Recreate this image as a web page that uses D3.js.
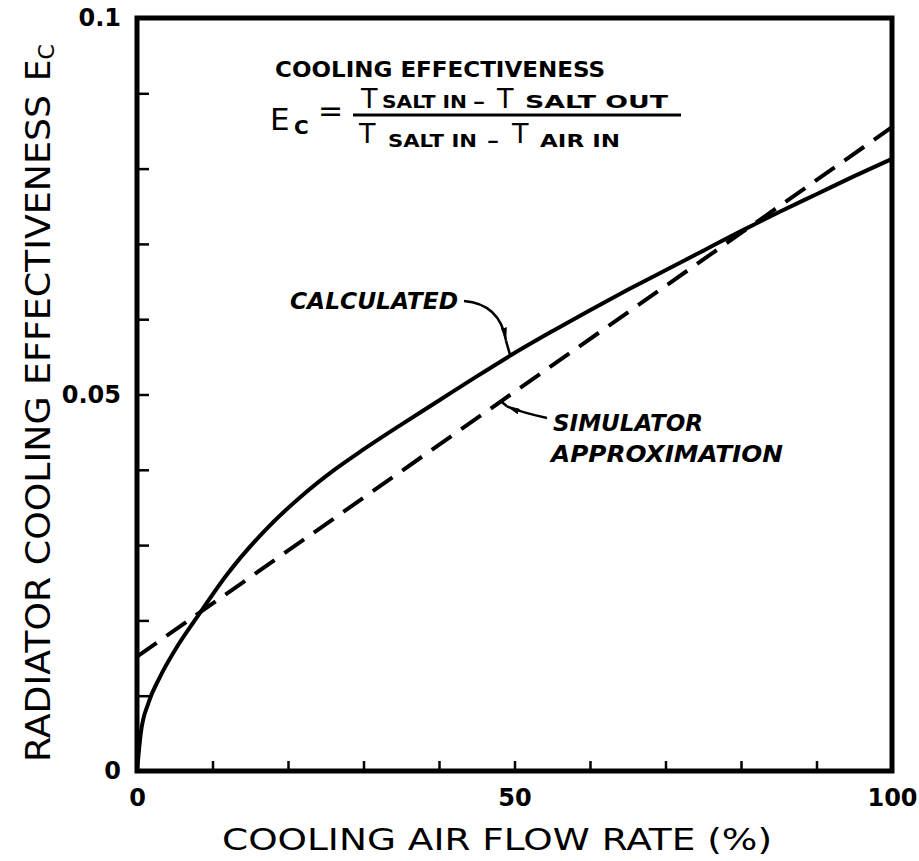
<!DOCTYPE html>
<html>
<head>
<meta charset="utf-8">
<script src="https://cdn.jsdelivr.net/npm/d3@7"></script>
<style>
  body { margin: 0; background: #fff; }
  svg { display: block; }
  .tick line { stroke: #000; stroke-width: 2.5; }
  .tick text { font-family: "DejaVu Sans", sans-serif; font-weight: bold; font-size: 24px; fill: #000; }
</style>
</head>
<body>
<div id="chart"></div>
<script>
// calculated curve
var calcX = [0, 0.5, 1.5, 3, 5, 8, 12, 17, 22, 26, 30, 35, 40, 45, 50, 55, 60, 65, 70, 75, 80, 85, 90, 95, 100];
var calcY = [0, 0.005, 0.009, 0.0124, 0.016, 0.0205, 0.0262, 0.032, 0.0367, 0.0399, 0.0427, 0.046, 0.0492, 0.0524, 0.0555, 0.0584, 0.0612, 0.0639, 0.0665, 0.0691, 0.0717, 0.0742, 0.0766, 0.079, 0.0813];

// simulator approximation (straight line)
var simX = [0, 100];
var simY = [0.0152, 0.0855];

// ticks
var xTicks = [0, 10, 20, 30, 40, 50, 60, 70, 80, 90, 100];
var yTicks = [0, 0.01, 0.02, 0.03, 0.04, 0.05, 0.06, 0.07, 0.08, 0.09, 0.1];
var xTickLabels = {0: "0", 50: "50", 100: "100"};
var yTickLabels = {0: "0", 0.05: "0.05", 0.1: "0.1"};

var W = 919, H = 861;
var margin = {top: 18, right: 27, bottom: 90, left: 137};

var svg = d3.select("#chart").append("svg")
  .attr("width", W)
  .attr("height", H);

var x = d3.scaleLinear().domain([0, 100]).range([margin.left, W - margin.right]);
var y = d3.scaleLinear().domain([0, 0.1]).range([H - margin.bottom, margin.top]);

// axes, ticks pointing inward
svg.append("g")
  .attr("transform", "translate(0," + y(0) + ")")
  .call(d3.axisBottom(x).tickValues(xTicks).tickSizeInner(-10).tickSizeOuter(0).tickPadding(18)
    .tickFormat(d => xTickLabels[d] || ""))
  .call(g => g.select(".domain").remove())
  .selectAll("text").attr("font-size", 25);

svg.append("g")
  .attr("transform", "translate(" + x(0) + ",0)")
  .call(d3.axisLeft(y).tickValues(yTicks).tickSizeInner(-12).tickSizeOuter(0).tickPadding(16)
    .tickFormat(d => yTickLabels[d] || ""))
  .call(g => g.select(".domain").remove());

// frame
svg.append("rect")
  .attr("x", x(0)).attr("y", y(0.1))
  .attr("width", x(100) - x(0)).attr("height", y(0) - y(0.1))
  .attr("fill", "none").attr("stroke", "#000").attr("stroke-width", 5);

// lines
var line = d3.line().x(d => x(d[0])).y(d => y(d[1])).curve(d3.curveMonotoneX);

svg.append("path")
  .datum(d3.zip(calcX, calcY))
  .attr("d", line)
  .attr("fill", "none").attr("stroke", "#000").attr("stroke-width", 4);

svg.append("path")
  .datum(d3.zip(simX, simY))
  .attr("d", d3.line().x(d => x(d[0])).y(d => y(d[1])))
  .attr("fill", "none").attr("stroke", "#000").attr("stroke-width", 4)
  .attr("stroke-dasharray", "24 12");

// axis titles
svg.append("text")
  .attr("x", 222).attr("y", 850)
  .attr("textLength", 550).attr("lengthAdjust", "spacingAndGlyphs")
  .style("font-family", "DejaVu Sans").style("font-size", "31px")
  .text("COOLING AIR FLOW RATE (%)");

var yt = svg.append("text")
  .attr("transform", "translate(50,762) rotate(-90)")
  .style("font-family", "DejaVu Sans").style("font-size", "34px");
yt.append("tspan").attr("textLength", 667).attr("lengthAdjust", "spacingAndGlyphs")
  .text("RADIATOR COOLING EFFECTIVENESS");
yt.append("tspan").attr("dx", 14).text("E");
yt.append("tspan").attr("dy", 4).style("font-size", "22px").text("C");

// formula block
var ann = svg.append("g").style("font-family", "DejaVu Sans").style("font-weight", "bold");
ann.append("text").attr("x", 275).attr("y", 77)
  .attr("textLength", 330).attr("lengthAdjust", "spacingAndGlyphs")
  .style("font-size", "22px").text("COOLING EFFECTIVENESS");
ann.append("text").attr("x", 270).attr("y", 130).style("font-size", "31px").style("font-weight", "normal").text("E");
ann.append("text").attr("x", 294).attr("y", 134).style("font-size", "20px").text("C");
ann.append("text").attr("x", 318).attr("y", 121).style("font-size", "30px").style("font-weight", "normal").text("=");
ann.append("line").attr("x1", 353).attr("x2", 681).attr("y1", 115).attr("y2", 115)
  .attr("stroke", "#000").attr("stroke-width", 3);

function term(px, py, s, len) {
  ann.append("text").attr("x", px).attr("y", py).attr("textLength", len).attr("lengthAdjust", "spacingAndGlyphs")
    .style("font-size", "18px").text(s);
}
function bigT(px, py) {
  ann.append("text").attr("x", px).attr("y", py).style("font-size", "27px").style("font-weight", "normal").text("T");
}
// numerator
bigT(361, 108); term(382, 108, "SALT IN", 85); term(473, 108, "–", 12);
bigT(497, 108); term(525, 108, "SALT OUT", 143);
// denominator
bigT(359, 143); term(388, 147, "SALT IN", 89); term(487, 147, "–", 12);
bigT(512, 143); term(540, 147, "AIR IN", 80);

// curve labels
var lab = svg.append("g").style("font-family", "DejaVu Sans").style("font-weight", "bold")
  .style("font-style", "italic").style("font-size", "23px");
lab.append("text").attr("x", 290).attr("y", 309).attr("textLength", 168).attr("lengthAdjust", "spacingAndGlyphs").text("CALCULATED");
lab.append("text").attr("x", 553).attr("y", 431).attr("textLength", 150).attr("lengthAdjust", "spacingAndGlyphs").text("SIMULATOR");
lab.append("text").attr("x", 551).attr("y", 462).attr("textLength", 232).attr("lengthAdjust", "spacingAndGlyphs").text("APPROXIMATION");

// arrows
svg.append("defs").append("marker")
  .attr("id", "head").attr("viewBox", "0 0 14 6").attr("refX", 13).attr("refY", 3)
  .attr("markerWidth", 14).attr("markerHeight", 6).attr("markerUnits", "userSpaceOnUse")
  .attr("orient", "auto")
  .append("path").attr("d", "M0,0 L14,3 L0,6 Z").attr("fill", "#000");

var tipCalc = [x(49.4), y(0.0553)];
var tipSim = [x(48.2), y(0.0491)];
svg.append("path")
  .attr("d", "M464,301 Q500,304 " + (tipCalc[0] - 4) + "," + (tipCalc[1] - 14))
  .attr("fill", "none").attr("stroke", "#000").attr("stroke-width", 2.5)
  .attr("marker-end", "url(#head)");
svg.append("line")
  .attr("x1", tipCalc[0] - 4).attr("y1", tipCalc[1] - 14).attr("x2", tipCalc[0]).attr("y2", tipCalc[1])
  .attr("stroke", "#000").attr("stroke-width", 2.5);
svg.append("path")
  .attr("d", "M547,418 Q520,412 " + (tipSim[0] + 6) + "," + (tipSim[1] + 5))
  .attr("fill", "none").attr("stroke", "#000").attr("stroke-width", 2.5)
  .attr("marker-end", "url(#head)");
svg.append("line")
  .attr("x1", tipSim[0] + 6).attr("y1", tipSim[1] + 5).attr("x2", tipSim[0]).attr("y2", tipSim[1])
  .attr("stroke", "#000").attr("stroke-width", 2.5);
</script>
</body>
</html>
